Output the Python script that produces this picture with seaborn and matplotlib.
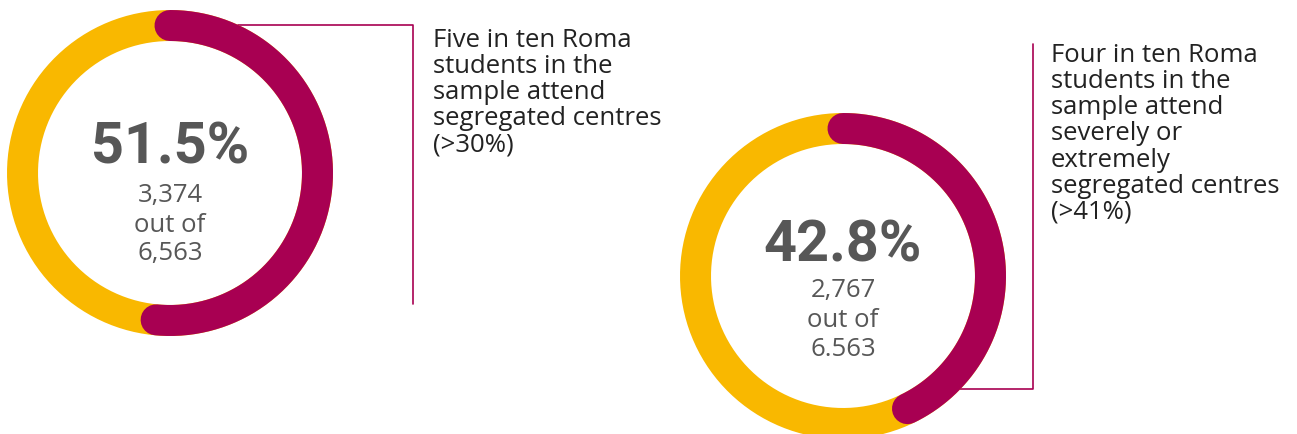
import numpy as np
import pandas as pd
import matplotlib
matplotlib.use("Agg")
import matplotlib.pyplot as plt
import seaborn as sns

# data
shares = [51.5, 42.8]
counts = ["3,374", "2,767"]
totals = ["6,563", "6.563"]
captions = [
    "Five in ten Roma\nstudents in the\nsample attend\nsegregated centres\n(>30%)",
    "Four in ten Roma\nstudents in the\nsample attend\nseverely or\nextremely\nsegregated centres\n(>41%)",
]

# layout (pixels, y down)
centres = [(170, 174), (843, 277)]
big_y = [164, 262]
small_y = [(202, 232, 260), (297, 327, 356)]
cap_xy = [(433, 50), (1051, 65)]
connectors = [
    ([238, 413, 413], [26, 26, 305]),
    ([1033, 1033, 960], [45, 390, 390]),
]

YELLOW = "#F9B800"
MAGENTA = "#A80052"
GREY = "#575757"
R = 147.5
LW = 31 * 0.72

sns.set_theme(style="white")
plt.rcParams["font.family"] = ["Open Sans", "DejaVu Sans"]

fig = plt.figure(figsize=(12.97, 4.35), dpi=100)
ax = fig.add_axes([0, 0, 1, 1])
ax.set_xlim(0, 1297)
ax.set_ylim(435, 0)
ax.set_aspect("equal")
ax.axis("off")

for i, share in enumerate(shares):
    cx, cy = centres[i]

    # connector line behind ring
    lx, ly = connectors[i]
    ax.plot(lx, ly, color=MAGENTA, lw=1.2, zorder=1)

    t = np.linspace(0, 2 * np.pi, 400)
    ring = pd.DataFrame({"x": cx + R * np.cos(t), "y": cy - R * np.sin(t)})
    sns.lineplot(data=ring, x="x", y="y", sort=False, estimator=None,
                 color=YELLOW, lw=LW, ax=ax, zorder=2)

    t2 = np.radians(np.linspace(90, 90 - 360 * share / 100, 300))
    arc = pd.DataFrame({"x": cx + R * np.cos(t2), "y": cy - R * np.sin(t2)})
    sns.lineplot(data=arc, x="x", y="y", sort=False, estimator=None,
                 color=MAGENTA, lw=LW, solid_capstyle="round", ax=ax, zorder=3)

    ax.text(cx, big_y[i], f"{share}%", ha="center", va="baseline",
            fontsize=41.5, fontweight="bold", color=GREY, family=["Roboto"])
    for txt, yy in zip([counts[i], "out of", totals[i]], small_y[i]):
        ax.text(cx, yy, txt, ha="center", va="baseline", fontsize=18.5, color=GREY)

    ax.text(cap_xy[i][0], cap_xy[i][1] - 22, captions[i], ha="left", va="top",
            fontsize=18.5, color="#222222", linespacing=1.06)

ax.set_xlabel("")
ax.set_ylabel("")
fig.savefig("out.png", dpi=100)
